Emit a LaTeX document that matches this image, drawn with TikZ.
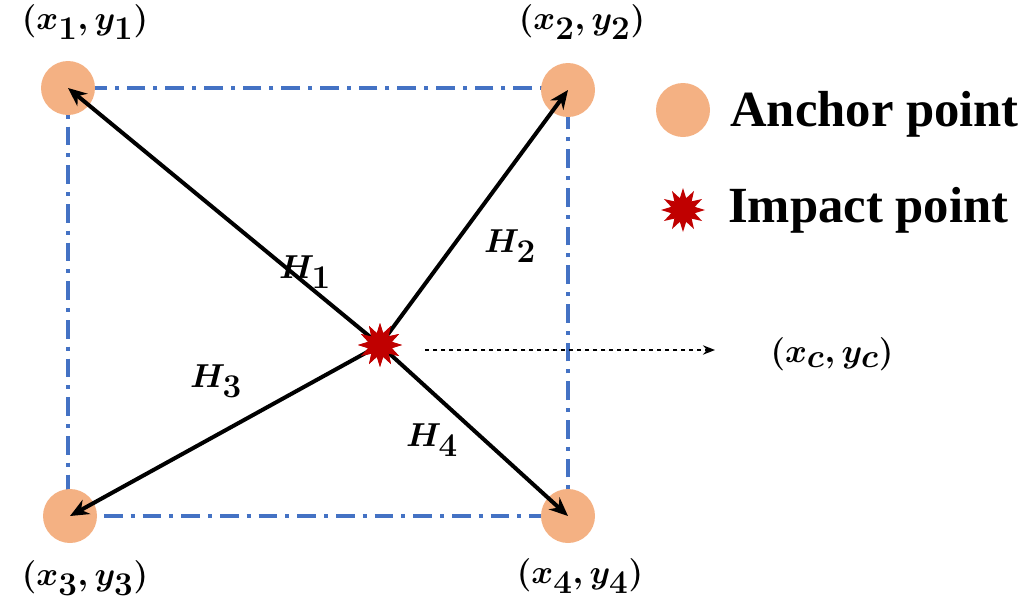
\documentclass[tikz,border=0pt]{standalone}
\usepackage{fontspec}
\setmainfont{Liberation Serif}
\usetikzlibrary{shapes.geometric,arrows.meta}
\definecolor{anc}{HTML}{F4B183}
\definecolor{bl}{HTML}{4472C4}
\definecolor{imp}{HTML}{C00000}
\begin{document}
\begin{tikzpicture}[x=0.75pt,y=-0.75pt,
 apt/.style={circle,fill=anc,minimum size=40.5pt,inner sep=0},
 impact/.style={star,star points=12,star point ratio=1.8,fill=imp,minimum size=33pt,inner sep=0},
 lab/.style={font=\fontsize{35}{38}\selectfont\boldmath,inner sep=0},
 txt/.style={font=\fontsize{38}{42}\selectfont\bfseries,anchor=west,inner sep=0},
 arr/.style={-{Stealth[length=14pt,width=12pt]},line width=3pt}]
\useasboundingbox (0,0) rectangle (1025,604);
\draw[bl,line width=3pt,dash pattern=on 14pt off 6pt on 3pt off 6pt] (68,88) rectangle (568,516);
\node[apt] (a1) at (68,88) {};
\node[apt] (a2) at (568,90) {};
\node[apt] (a3) at (70,516) {};
\node[apt] (a4) at (568,516) {};
\node[impact] (c) at (380,345) {};
\draw[arr] (c.center) -- (a1.center);
\draw[arr] (c.center) -- (a2.center);
\draw[arr] (c.center) -- (a3.center);
\draw[arr] (c.center) -- (a4.center);
\node[impact] (c2) at (380,345) {};
\node[lab] (h1) at (305,272) {$H_1$};
\node[lab] (h2) at (510,246) {$H_2$};
\node[lab] (h3) at (216,381) {$H_3$};
\node[lab] (h4) at (432,440) {$H_4$};
\node[lab] (l1) at (85,22) {$(x_1,y_1)$};
\node[lab] (l2) at (582,22) {$(x_2,y_2)$};
\node[lab] (l3) at (85,578) {$(x_3,y_3)$};
\node[lab] (l4) at (580,576) {$(x_4,y_4)$};
\coordinate (d0) at (425,350);
\coordinate (d1) at (715,350);
\node[lab] (lc) at (832,354) {$(x_c,y_c)$};
\draw[dashed,line width=1.5pt,-{Stealth[length=9pt,width=7pt]}] (d0) -- (d1);
\node[apt] (la) at (683,110) {};
\node[txt] (ta) at (730,114) {Anchor point};
\node[impact] (li) at (683,210) {};
\node[txt] (ti) at (728,210) {Impact point};
\end{tikzpicture}
\end{document}
